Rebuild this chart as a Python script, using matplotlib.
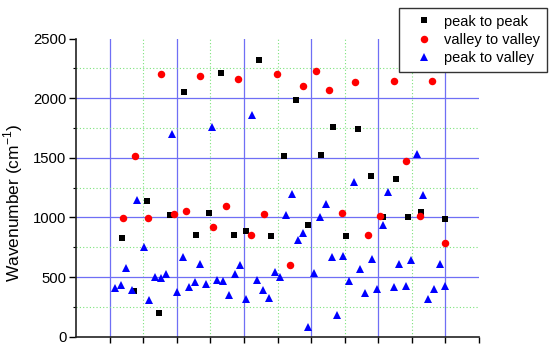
"""
Wavenumber scatter: peak to peak, valley to valley, peak to valley.
"""

import matplotlib
matplotlib.use('Agg')
import matplotlib.pyplot as plt

plt.rcParams['font.family'] = ['Liberation Sans', 'DejaVu Sans']

# x positions are in grid units (the chart shows no x labels)
p2p_x = [1.37, 1.74, 2.10, 2.47, 2.80, 3.22, 3.58, 3.95, 4.33, 4.69, 5.06, 5.45,
         5.81, 6.18, 6.55, 6.92, 7.30, 7.66, 8.03, 8.40, 8.79, 9.14, 9.52, 9.89,
         10.26, 10.99]
p2p_y = [827, 383, 1139, 196, 1019, 2052, 852, 1036, 2214, 854, 888, 2317,
         843, 1513, 1988, 933, 1524, 1759, 841, 1742, 1348, 1005, 1321, 1005,
         1047, 983]

v2v_x = [1.39, 1.76, 2.14, 2.53, 2.92, 3.29, 3.68, 4.08, 4.46, 4.83, 5.22, 5.61,
         5.99, 6.37, 6.77, 7.15, 7.53, 7.92, 8.31, 8.70, 9.06, 9.47, 9.84, 10.23,
         10.61, 10.99]
v2v_y = [997, 1516, 997, 2203, 1025, 1050, 2186, 919, 1097, 2158, 849, 1030,
         2203, 598, 2100, 2225, 2072, 1036, 2136, 849, 1013, 2141, 1471, 1013,
         2141, 782]

p2v_x = [1.17, 1.35, 1.50, 1.66, 1.83, 2.01, 2.18, 2.34, 2.52, 2.69, 2.85, 3.02,
         3.19, 3.36, 3.54, 3.70, 3.88, 4.05, 4.21, 4.38, 4.55, 4.73, 4.89, 5.05,
         5.23, 5.40, 5.56, 5.74, 5.93, 6.06, 6.25, 6.42, 6.60, 6.76, 6.92, 7.10,
         7.28, 7.44, 7.62, 7.77, 7.95, 8.12, 8.28, 8.46, 8.62, 8.80, 8.96, 9.14,
         9.30, 9.48, 9.63, 9.82, 9.99, 10.16, 10.33, 10.49, 10.67, 10.84, 10.99]
p2v_y = [410, 430, 578, 391, 1145, 749, 307, 503, 489, 523, 1698, 372,
         670, 414, 458, 609, 444, 1754, 475, 466, 346, 528, 598, 318,
         1857, 475, 391, 324, 540, 503, 1022, 1198, 810, 871, 79, 531,
         1005, 1111, 667, 179, 678, 466, 1296, 564, 369, 651, 402, 935,
         1214, 419, 606, 425, 642, 1528, 1184, 313, 400, 606, 425]

major_v = [1, 3, 5, 7, 9, 11]
minor_v = [2, 4, 6, 8, 10]
major_h = [500, 1000, 1500, 2000]
minor_h = [250, 750, 1250, 1750, 2250]

BLUE_GRID = '#6f6ff5'
GREEN_GRID = '#7be37b'

fig = plt.figure(figsize=(5.5, 3.5), dpi=100)
ax = fig.add_axes([76 / 550, 13.3 / 350, 403 / 550, 298.2 / 350])

for x in major_v:
    ax.axvline(x, color=BLUE_GRID, lw=0.9, zorder=1)
for x in minor_v:
    ax.axvline(x, color=GREEN_GRID, lw=0.8, ls=(0, (1, 2)), zorder=1)
for y in major_h:
    ax.axhline(y, color=BLUE_GRID, lw=0.9, zorder=1)
for y in minor_h:
    ax.axhline(y, color=GREEN_GRID, lw=0.8, ls=(0, (1, 2)), zorder=1)

ax.plot(p2p_x, p2p_y, 's', color='black', ms=4.6, mew=0, label='peak to peak', zorder=3)
ax.plot(v2v_x, v2v_y, 'o', color='#ff0000', ms=5.4, mew=0, label='valley to valley', zorder=3)
ax.plot(p2v_x, p2v_y, '^', color='#0000ff', ms=6.0, mew=0, label='peak to valley', zorder=3)

ax.set_xlim(0, 12)
ax.set_ylim(0, 2500)
ax.set_xticks(range(1, 13))
ax.set_xticklabels([])
ax.set_yticks([0, 500, 1000, 1500, 2000, 2500])
ax.set_yticks(minor_h, minor=True)
ax.tick_params(axis='y', which='major', direction='out', length=5, width=1,
               labelsize=10.7, pad=2)
ax.tick_params(axis='y', which='minor', direction='out', length=2.5, width=0.8)
ax.tick_params(axis='x', direction='out', length=4, width=1)

for side in ['top', 'right']:
    ax.spines[side].set_visible(False)
for side in ['left', 'bottom']:
    ax.spines[side].set_linewidth(1.2)
    ax.spines[side].set_color('#222222')

ax.set_ylabel('Wavenumber (cm$^{\\mathregular{-1}}$)', fontsize=12.5)
ax.yaxis.set_label_coords(-0.127, 0.45)

fig.legend(loc='upper right', bbox_to_anchor=(547 / 550, 1 - 8 / 350),
           fontsize=10.5, frameon=True, fancybox=False, edgecolor='#333333',
           framealpha=1, labelspacing=0.3, handletextpad=0.15, borderpad=0.45,
           handlelength=2.5, borderaxespad=0)

fig.savefig('out.png', dpi=100)
